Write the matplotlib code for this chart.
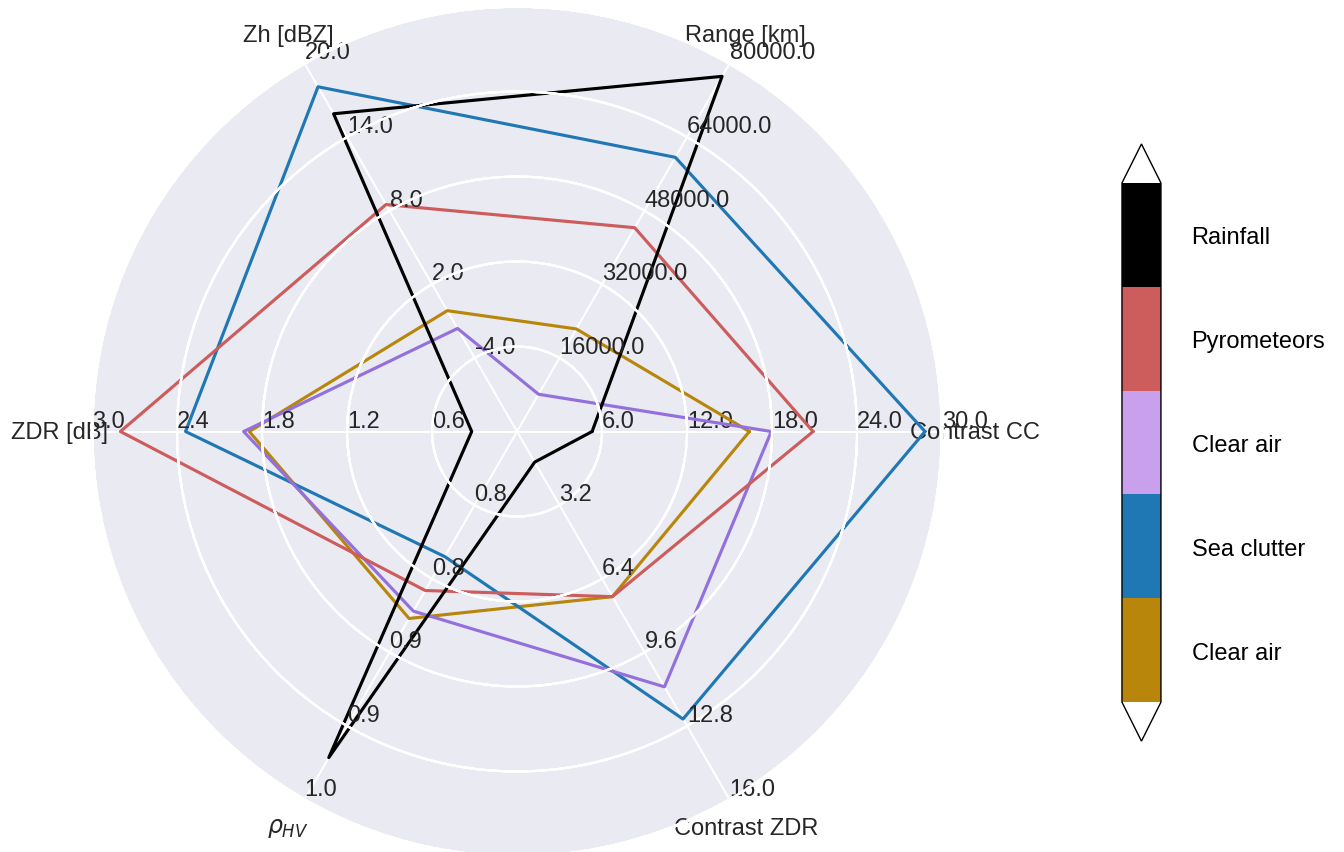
import numpy as np
import matplotlib
matplotlib.use("Agg")
import matplotlib.pyplot as plt
import matplotlib.colors as mcolors
import matplotlib.cm as cm
import seaborn as sns

# radar axes and their value ranges (centre -> edge)
variables = ["Contrast CC", "Range [km]", "Zh [dBZ]", "ZDR [dB]", r"$\rho_{HV}$", "Contrast ZDR"]
ranges = [(0.0, 30.0), (0.0, 80000.0), (-10.0, 20.0), (0.0, 3.0), (0.75, 1.0), (0.0, 16.0)]

# mean feature values per class, same order as variables
clear_air_a = [16.4, 22300.0, -0.15, 1.89, 0.877, 7.18]
sea_clutter = [28.8, 59600.0, 18.1, 2.34, 0.835, 12.5]
clear_air_b = [17.95, 8100.0, -1.6, 1.93, 0.872, 11.1]
pyrometeors = [20.9, 44300.0, 8.5, 2.80, 0.858, 7.18]
rainfall = [5.3, 77200.0, 15.9, 0.32, 0.9715, 1.33]

classes = ["Clear air", "Sea clutter", "Clear air", "Pyrometeors", "Rainfall"]
profiles = [clear_air_a, sea_clutter, clear_air_b, pyrometeors, rainfall]
line_colors = ["darkgoldenrod", "#1f77b4", "mediumpurple", "indianred", "black"]
bar_colors = ["darkgoldenrod", "#1f77b4", "#c8a0ec", "indianred", "black"]


def scale_data(data, ranges):
    # map every variable onto the range of the first axis
    lo0, hi0 = ranges[0]
    out = []
    for d, (lo, hi) in zip(data, ranges):
        out.append((d - lo) / (hi - lo) * (hi0 - lo0) + lo0)
    return np.array(out)


sns.set_theme(context="talk", style="darkgrid")
plt.rcParams["font.family"] = ["Liberation Sans", "DejaVu Sans"]

fs = 17
fig = plt.figure(figsize=(13.44, 8.53), dpi=100)
rect = [0.0685, -0.0053, 0.6324, 0.9965]
n = len(variables)
angles = np.arange(0, 360, 360.0 / n)
axes = [fig.add_axes(rect, polar=True, label="axes{}".format(i)) for i in range(n)]

axes[0].set_thetagrids(angles, labels=variables)
axes[0].tick_params(axis="x", pad=7.5, labelsize=fs, colors=".15")
for ax in axes[1:]:
    ax.patch.set_visible(False)
    ax.xaxis.set_visible(False)

for i, ax in enumerate(axes):
    grid = np.linspace(*ranges[i], num=6)
    gridlabel = ["{:.1f}".format(g) for g in grid]
    ax.set_ylim(*ranges[i])
    ax.set_yticks(grid[1:])
    ax.set_yticklabels(gridlabel[1:])
    ax.set_rlabel_position(angles[i])
    ax.tick_params(axis="y", labelsize=fs, colors=".15")
    ax.grid(True, axis="y", color="white", linewidth=1.5)

theta = np.deg2rad(np.r_[angles, angles[0]])
for prof, color in zip(profiles, line_colors):
    sdata = scale_data(prof, ranges)
    axes[0].plot(theta, np.r_[sdata, sdata[0]], color=color, linewidth=2.25)

# class colour bar
cmap = mcolors.ListedColormap(bar_colors)
cmap.set_over("white")
cmap.set_under("white")
norm = mcolors.BoundaryNorm(np.arange(len(classes) + 1), cmap.N)
sm = cm.ScalarMappable(norm=norm, cmap=cmap)
cax = fig.add_axes([0.8348, 0.130, 0.029, 0.700])
cb = fig.colorbar(sm, cax=cax, extend="both", extendfrac=0.075,
                  ticks=np.arange(len(classes)) + 0.5)
cb.set_ticklabels(classes)
cb.minorticks_off()
cb.outline.set_edgecolor("black")
cb.outline.set_linewidth(1.0)
cb.ax.tick_params(which="both", length=0, pad=22, labelsize=fs, colors="black")

fig.savefig("out.png", dpi=100)
